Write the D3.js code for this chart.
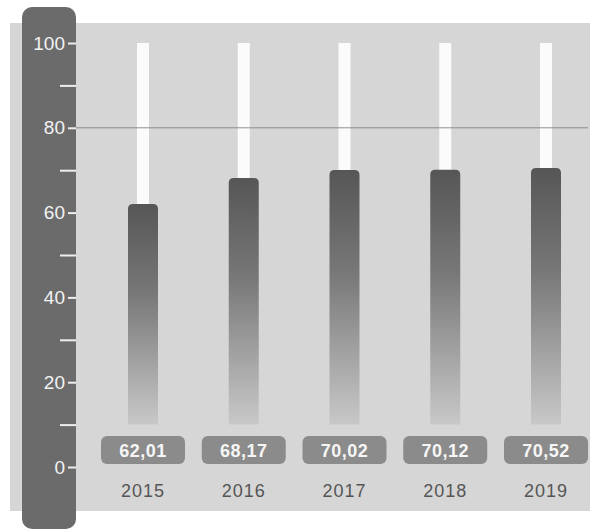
<!DOCTYPE html>
<html lang="en">
<head>
<meta charset="utf-8">
<title>Bars 2015-2019</title>
<script src="https://cdn.jsdelivr.net/npm/d3@7"></script>
<style>
  body { margin: 0; background: #fff; }
  text { font-family: "Liberation Sans", Arial, sans-serif; }
  .axis .domain { display: none; }
  .axis line { stroke: #eeeeee; stroke-width: 2; }
</style>
</head>
<body>
<script>
var years = ["2015", "2016", "2017", "2018", "2019"];
var values = [62.01, 68.17, 70.02, 70.12, 70.52];
var labels = ["62,01", "68,17", "70,02", "70,12", "70,52"];
var majorTicks = [0, 20, 40, 60, 80, 100];
var minorTicks = [10, 30, 50, 70, 90];

var w = 597, h = 530;

var svg = d3.select("body").append("svg")
  .attr("width", w)
  .attr("height", h);

var y = d3.scaleLinear().domain([0, 100]).range([467, 43]);
var x = d3.scalePoint().domain(years).range([143, 546]);

var defs = svg.append("defs");
var grad = defs.append("linearGradient")
  .attr("id", "barGrad")
  .attr("x1", 0).attr("y1", 0).attr("x2", 0).attr("y2", 1);
grad.append("stop").attr("offset", "0%").attr("stop-color", "#565656");
grad.append("stop").attr("offset", "40%").attr("stop-color", "#777777");
grad.append("stop").attr("offset", "100%").attr("stop-color", "#c8c8c8");

// light panel
svg.append("rect")
  .attr("x", 10).attr("y", 23)
  .attr("width", 580).attr("height", 488)
  .attr("fill", "#d6d6d6");

// white tracks up to 100
svg.selectAll("rect.track")
  .data(years)
  .enter().append("rect")
  .attr("class", "track")
  .attr("x", function(d) { return x(d) - 6; })
  .attr("y", y(100))
  .attr("width", 12)
  .attr("height", function(d, i) { return y(values[i]) - y(100) + 4; })
  .attr("fill", "#fbfbfb");

// gridline at 80
svg.append("line")
  .attr("x1", 76).attr("x2", 588)
  .attr("y1", y(80)).attr("y2", y(80))
  .attr("stroke", "#7e7e7e")
  .attr("stroke-opacity", 0.85)
  .attr("stroke-width", 1);

// bars fading toward the bottom
svg.selectAll("path.bar")
  .data(values)
  .enter().append("path")
  .attr("class", "bar")
  .attr("fill", "url(#barGrad)")
  .attr("d", function(d, i) {
    var x0 = x(years[i]) - 15, x1 = x(years[i]) + 15;
    var t = y(d), b = y(10), r = 5;
    return "M" + x0 + "," + b + "V" + (t + r) +
      "Q" + x0 + "," + t + " " + (x0 + r) + "," + t +
      "H" + (x1 - r) + "Q" + x1 + "," + t + " " + x1 + "," + (t + r) +
      "V" + b + "Z";
  });

// value label boxes
svg.selectAll("rect.vbox")
  .data(labels)
  .enter().append("rect")
  .attr("class", "vbox")
  .attr("x", function(d, i) { return x(years[i]) - 42; })
  .attr("y", 436)
  .attr("width", 84).attr("height", 28)
  .attr("rx", 6)
  .attr("fill", "#8b8b8b");

svg.selectAll("text.vlab")
  .data(labels)
  .enter().append("text")
  .attr("class", "vlab")
  .attr("x", function(d, i) { return x(years[i]); })
  .attr("y", 457)
  .attr("text-anchor", "middle")
  .attr("fill", "#f6f6f6")
  .style("font-size", "18px")
  .style("font-weight", "bold")
  .style("letter-spacing", "0.5px")
  .text(function(d) { return d; });

// years
svg.selectAll("text.year")
  .data(years)
  .enter().append("text")
  .attr("class", "year")
  .attr("x", function(d) { return x(d); })
  .attr("y", 497)
  .attr("text-anchor", "middle")
  .attr("fill", "#555555")
  .style("font-size", "18px")
  .style("letter-spacing", "1px")
  .text(function(d) { return d; });

// dark axis band
svg.append("rect")
  .attr("x", 22).attr("y", 7)
  .attr("width", 54).attr("height", 522)
  .attr("rx", 10)
  .attr("fill", "#6b6b6b");

var yAxis = d3.axisLeft(y)
  .tickValues(majorTicks)
  .tickSize(8)
  .tickPadding(3);

svg.append("g")
  .attr("class", "axis")
  .attr("transform", "translate(76,0)")
  .call(yAxis)
  .call(function(g) {
    g.selectAll("text")
      .attr("fill", "#f2f2f2")
      .style("font-size", "19px");
  });

var minorAxis = d3.axisLeft(y)
  .tickValues(minorTicks)
  .tickSize(16)
  .tickFormat("");

svg.append("g")
  .attr("class", "axis")
  .attr("transform", "translate(76,0)")
  .call(minorAxis);
</script>
</body>
</html>
